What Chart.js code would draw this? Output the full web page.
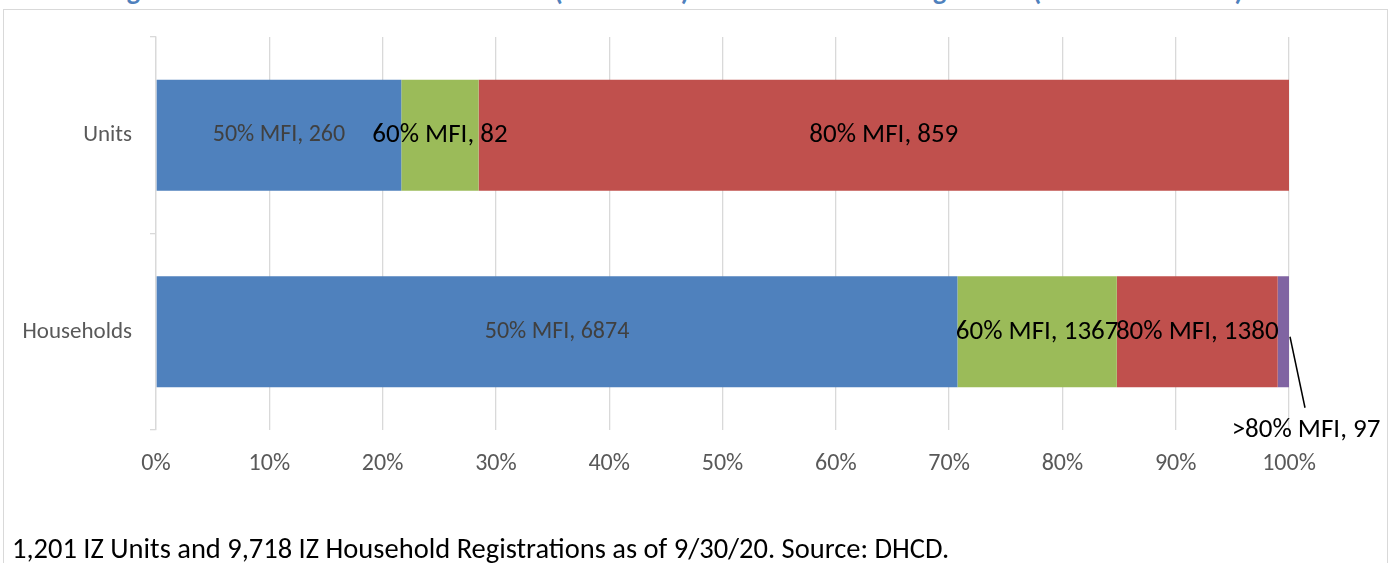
<!DOCTYPE html>
<html>
<head>
<meta charset="utf-8">
<script src="https://cdn.jsdelivr.net/npm/chart.js@4.4.1/dist/chart.umd.min.js"></script>
<style>
  body { margin: 0; background: #fff; overflow: hidden; }
  #wrap { position: relative; width: 1393px; height: 563px; }
  #frame { position: absolute; left: 3px; top: 9px; width: 1383px; height: 600px; border: 1px solid #d9d9d9; }
  #title { position: absolute; left: 107px; top: -27px; line-height: 28px; font: bold 28px Carlito, "Open Sans", sans-serif; color: #4f81bd; white-space: nowrap; }
  #note { position: absolute; left: 12px; top: 531px; line-height: 34px; font: 28.5px Carlito, "Open Sans", sans-serif; color: #000; white-space: nowrap; }
  canvas { position: absolute; left: 0; top: 0; }
</style>
</head>
<body>
<div id="wrap">
  <div id="frame"></div>
  <div id="title">Figure 3: IZ Affordable Units Produced (% of Units) vs. IZ Households Registered (% of Households)</div>
  <canvas id="canvasIZ" width="1393" height="563"></canvas>
  <div id="note">1,201 IZ Units and 9,718 IZ Household Registrations as of 9/30/20. Source: DHCD.</div>
</div>
<script>
"use strict";
// categories and counts
var categories = ["Units", "Households"];
var seriesNames = ["50% MFI", "60% MFI", "80% MFI", ">80% MFI"];
var mfi50 = [260, 6874];
var mfi60 = [82, 1367];
var mfi80 = [859, 1380];
var mfiOver80 = [null, 97];
var xTicks = [0, 10, 20, 30, 40, 50, 60, 70, 80, 90, 100];

var counts = [mfi50, mfi60, mfi80, mfiOver80];
var colors = ["#4f81bd", "#9bbb59", "#c0504d", "#8064a2"];
var FONT = "Carlito, 'Open Sans', sans-serif";

function toPercent(series) {
    return series.map(function (v, i) {
        if (v == null) return null;
        var total = 0;
        counts.forEach(function (s) { total += s[i] || 0; });
        return v / total * 100;
    });
}

// simple inline data label drawer (no datalabels plugin available)
var labelPlugin = {
    id: "mfiLabels",
    afterDatasetsDraw: function (chart) {
        var ctx = chart.ctx;
        ctx.save();
        ctx.textBaseline = "middle";
        ctx.textAlign = "center";
        chart.data.datasets.forEach(function (ds, di) {
            var meta = chart.getDatasetMeta(di);
            meta.data.forEach(function (el, i) {
                var raw = counts[di][i];
                if (raw == null) return;
                var text = seriesNames[di] + ", " + raw;
                if (di === 0) {
                    ctx.font = "24px " + FONT;
                    ctx.fillStyle = "#404040";
                } else {
                    ctx.font = "27px " + FONT;
                    ctx.fillStyle = "#000";
                }
                var cx = (el.x + el.base) / 2;
                var cy = el.y;
                if (di === 3) {
                    // leader line to label placed below the bar
                    ctx.strokeStyle = "#000";
                    ctx.lineWidth = 1.5;
                    ctx.beginPath();
                    ctx.moveTo(el.x + 1, el.y + 5);
                    ctx.lineTo(el.x + 16, el.y + 76);
                    ctx.stroke();
                    cx = el.x + 17;
                    cy = el.y + 98;
                }
                ctx.fillText(text, cx, cy);
            });
        });
        ctx.restore();
    }
};

var datasets = counts.map(function (s, i) {
    return {
        label: seriesNames[i],
        data: toPercent(s),
        backgroundColor: colors[i],
        borderWidth: 0,
        categoryPercentage: 1,
        barPercentage: 0.565
    };
});

var context = document.getElementById("canvasIZ");
var myChart = new Chart(context, {
    type: "bar",
    data: { labels: categories, datasets: datasets },
    plugins: [labelPlugin],
    options: {
        indexAxis: "y",
        responsive: false,
        animation: false,
        layout: { padding: { top: 37, right: 104, left: 0, bottom: 0 } },
        plugins: { legend: { display: false }, tooltip: { enabled: false } },
        scales: {
            x: {
                stacked: true,
                min: 0,
                max: 100,
                afterBuildTicks: function (axis) {
                    axis.ticks = xTicks.map(function (v) { return { value: v }; });
                },
                afterFit: function (axis) { axis.height = 133; },
                grid: { color: "#d9d9d9", lineWidth: 1.3, drawTicks: false },
                border: { display: false },
                ticks: {
                    padding: 20,
                    color: "#595959",
                    font: { family: FONT, size: 24 },
                    callback: function (v) { return v + "%"; }
                }
            },
            y: {
                stacked: true,
                afterFit: function (axis) { axis.width = 156; },
                grid: { offset: true, drawOnChartArea: false, tickLength: 6, color: "#d9d9d9", lineWidth: 1.3 },
                border: { display: true, color: "#d9d9d9", width: 1.3 },
                ticks: {
                    padding: 18,
                    color: "#595959",
                    font: { family: FONT, size: 23 }
                }
            }
        }
    }
});
</script>
</body>
</html>
